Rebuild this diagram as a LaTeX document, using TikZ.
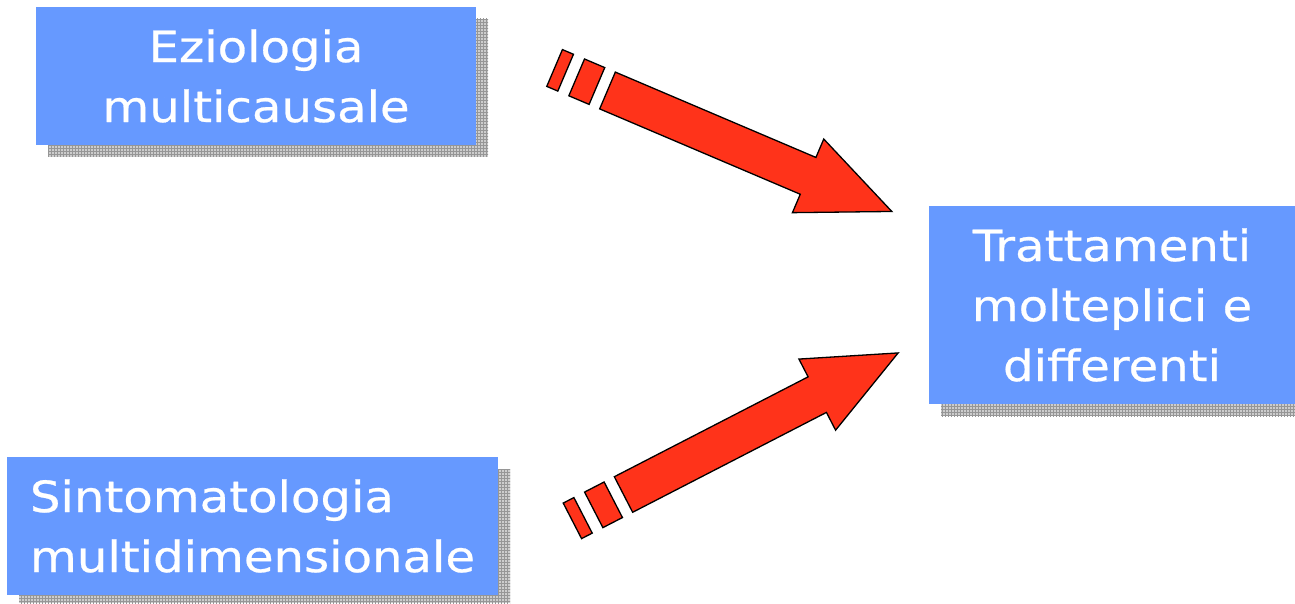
\documentclass[tikz,border=0pt]{standalone}
\usepackage{fontspec}
\newfontfamily\boxfont[FakeStretch=1.12,FakeBold=0.6]{DejaVu Sans}
\usetikzlibrary{patterns,calc,backgrounds}
\definecolor{boxblue}{RGB}{102,153,255}
\definecolor{arrowred}{RGB}{255,51,26}
\definecolor{shadowgray}{RGB}{205,205,205}
\definecolor{shadowline}{RGB}{150,150,150}
\tikzset{
  box/.style={fill=boxblue, text=white, inner sep=0pt, outer sep=0pt,
    font=\boxfont\fontsize{43}{60}\selectfont},
  boxshadow/.style={preaction={fill=shadowgray}, pattern=grid, pattern color=shadowline},
  blockarrow/.style={fill=arrowred, draw=black, line width=1.3pt, line join=miter},
}
\begin{document}
\begin{tikzpicture}[x=1pt,y=-1pt]
\useasboundingbox (0,0) rectangle (1295,604);
% boxes
\node[box, align=center, minimum width=440pt, minimum height=138pt] (ez) at (256,76) {Eziologia\\multicausale};
\node[box, align=left, minimum width=491pt, minimum height=138pt] (sin) at (252.5,526) {Sintomatologia\\multidimensionale};
\node[box, align=center, minimum width=366pt, minimum height=198pt] (tra) at (1112,305) {Trattamenti\\molteplici e\\differenti};
% shadows
\begin{scope}[on background layer]
  \path[boxshadow] ($(ez.north west)+(12,12)$) rectangle ($(ez.south east)+(12,12)$);
  \path[boxshadow] ($(sin.north west)+(12,12)$) rectangle ($(sin.south east)+(12,8)$);
  \path[boxshadow] ($(tra.north west)+(12,12)$) rectangle ($(tra.south east)+(0,12)$);
\end{scope}
% arrows
\coordinate (a1) at (607.5,90.5);
\coordinate (a2) at (623.5,494.5);
\begin{scope}[shift={(a1)}, rotate=-23.05]
  \coordinate (a1tip) at (309,0);
  \draw[blockarrow] (0,-20) -- (218,-20) -- (218,-40) -- (a1tip) -- (218,40) -- (218,20) -- (0,20) -- cycle;
  \draw[blockarrow] (-33.5,-20) rectangle (-11.5,20);
  \draw[blockarrow] (-57.5,-20) rectangle (-45.5,20);
\end{scope}
\begin{scope}[shift={(a2)}, rotate=27.27]
  \coordinate (a2tip) at (309,0);
  \draw[blockarrow] (0,-20) -- (218,-20) -- (218,-40) -- (a2tip) -- (218,40) -- (218,20) -- (0,20) -- cycle;
  \draw[blockarrow] (-33.5,-20) rectangle (-11.5,20);
  \draw[blockarrow] (-57.5,-20) rectangle (-45.5,20);
\end{scope}
\end{tikzpicture}
\end{document}
